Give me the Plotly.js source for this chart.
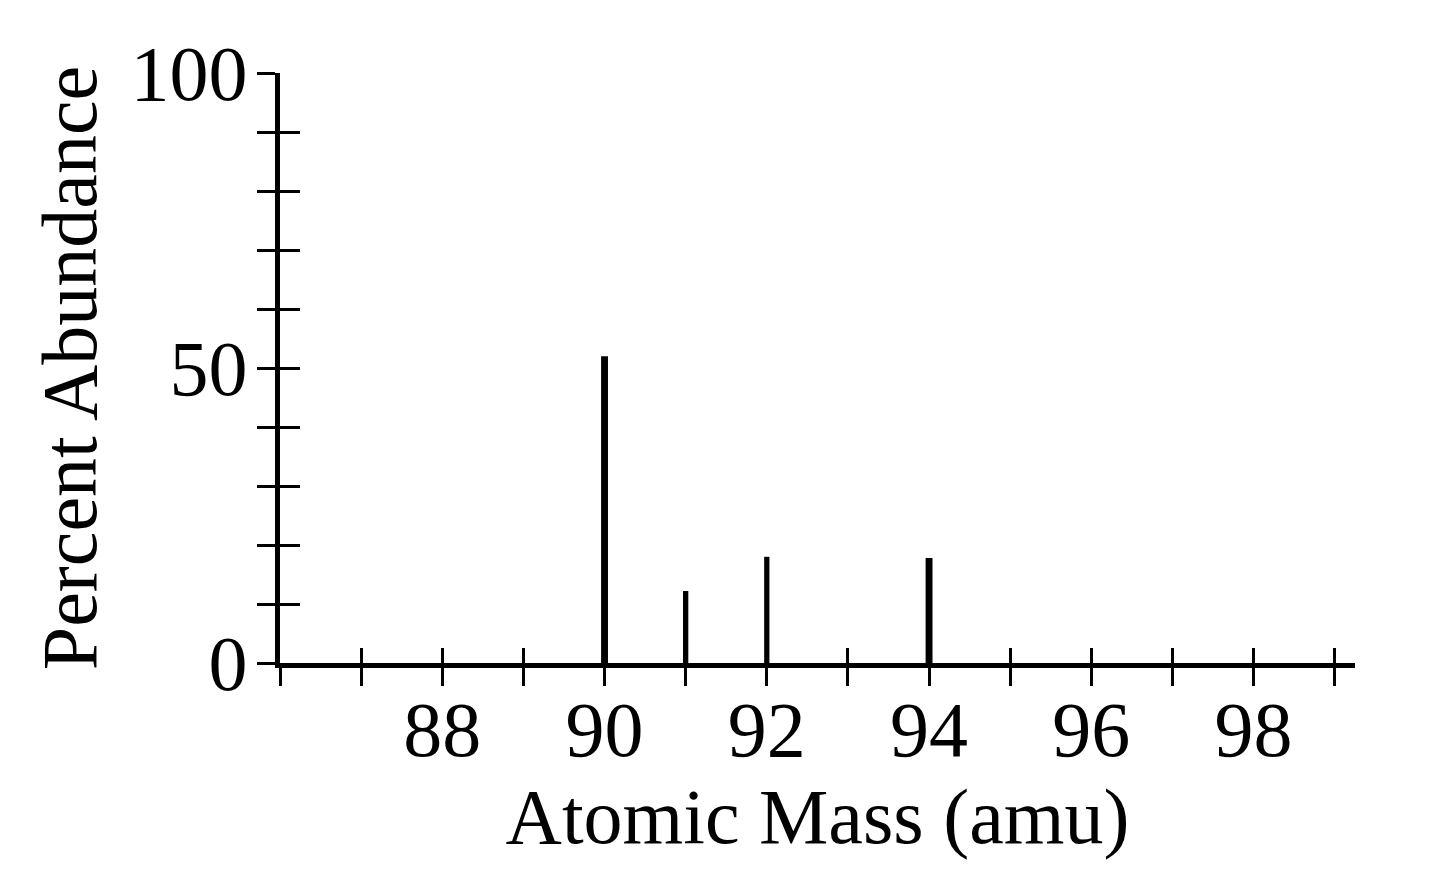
<!DOCTYPE html>
<html>
<head>
<meta charset="utf-8">
<script src="https://cdn.plot.ly/plotly-3.0.1.min.js"></script>
<style>
  html, body { margin: 0; padding: 0; background: #fff; }
  #chart { width: 1440px; height: 892px; }
</style>
</head>
<body>
<div id="chart"></div>
<script>
// isotope peaks
var masses = [90, 91, 92, 94];
var abundance = [52, 12.2, 18, 17.8];

// axis ticks
var x_ticks = [86, 87, 88, 89, 90, 91, 92, 93, 94, 95, 96, 97, 98, 99];
var x_labels = ['', '', '88', '', '90', '', '92', '', '94', '', '96', '', '98', ''];
var y_ticks = [0, 10, 20, 30, 40, 50, 60, 70, 80, 90, 100];
var y_labels = ['0', '', '', '', '', '50', '', '', '', '', '100'];

var serif = 'Liberation Serif, Times New Roman, serif';

var peaks = {
    x: masses,
    y: abundance,
    type: 'bar',
    width: [0.085, 0.065, 0.065, 0.085],
    marker: {color: '#000', line: {width: 0}},
    hoverinfo: 'x+y'
};

var layout = {
    width: 1440,
    height: 892,
    margin: {l: 280, r: 85, t: 73, b: 229},
    paper_bgcolor: '#fff',
    plot_bgcolor: '#fff',
    showlegend: false,
    font: {family: serif, color: '#000', size: 78},
    xaxis: {
        range: [86, 99.25],
        tickmode: 'array',
        tickvals: x_ticks,
        ticktext: x_labels,
        ticks: 'outside',
        ticklen: 18,
        tickwidth: 3,
        tickcolor: '#000',
        ticklabelstandoff: -24,
        showline: true,
        linewidth: 5,
        linecolor: '#000',
        showgrid: false,
        zeroline: false,
        tickfont: {family: serif, size: 78},
        title: {text: 'Atomic Mass (amu)', font: {family: serif, size: 78}, standoff: 8}
    },
    xaxis2: {
        overlaying: 'x',
        anchor: 'y',
        side: 'bottom',
        range: [86, 99.25],
        tickmode: 'array',
        tickvals: x_ticks,
        ticks: 'inside',
        ticklen: 15,
        tickwidth: 3,
        tickcolor: '#000',
        showticklabels: false,
        showline: false,
        showgrid: false,
        zeroline: false
    },
    yaxis: {
        range: [0, 100],
        tickmode: 'array',
        tickvals: y_ticks,
        ticktext: y_labels,
        ticks: 'outside',
        ticklen: 18,
        tickwidth: 3,
        tickcolor: '#000',
        ticklabelstandoff: -6,
        showline: true,
        linewidth: 5,
        linecolor: '#000',
        showgrid: false,
        zeroline: false,
        tickfont: {family: serif, size: 78},
        title: {text: 'Percent Abundance', font: {family: serif, size: 78}, standoff: 10}
    },
    yaxis2: {
        overlaying: 'y',
        anchor: 'x',
        side: 'left',
        range: [0, 100],
        tickmode: 'array',
        tickvals: y_ticks,
        ticks: 'inside',
        ticklen: 20,
        tickwidth: 3,
        tickcolor: '#000',
        showticklabels: false,
        showline: false,
        showgrid: false,
        zeroline: false
    }
};

// dummy trace so the overlay axes get drawn
var ticks_only = {
    x: [86], y: [0], xaxis: 'x2', yaxis: 'y2',
    type: 'scatter', mode: 'markers', marker: {opacity: 0}, hoverinfo: 'skip'
};

Plotly.newPlot('chart', [peaks, ticks_only], layout, {displayModeBar: false, staticPlot: true});
</script>
</body>
</html>
